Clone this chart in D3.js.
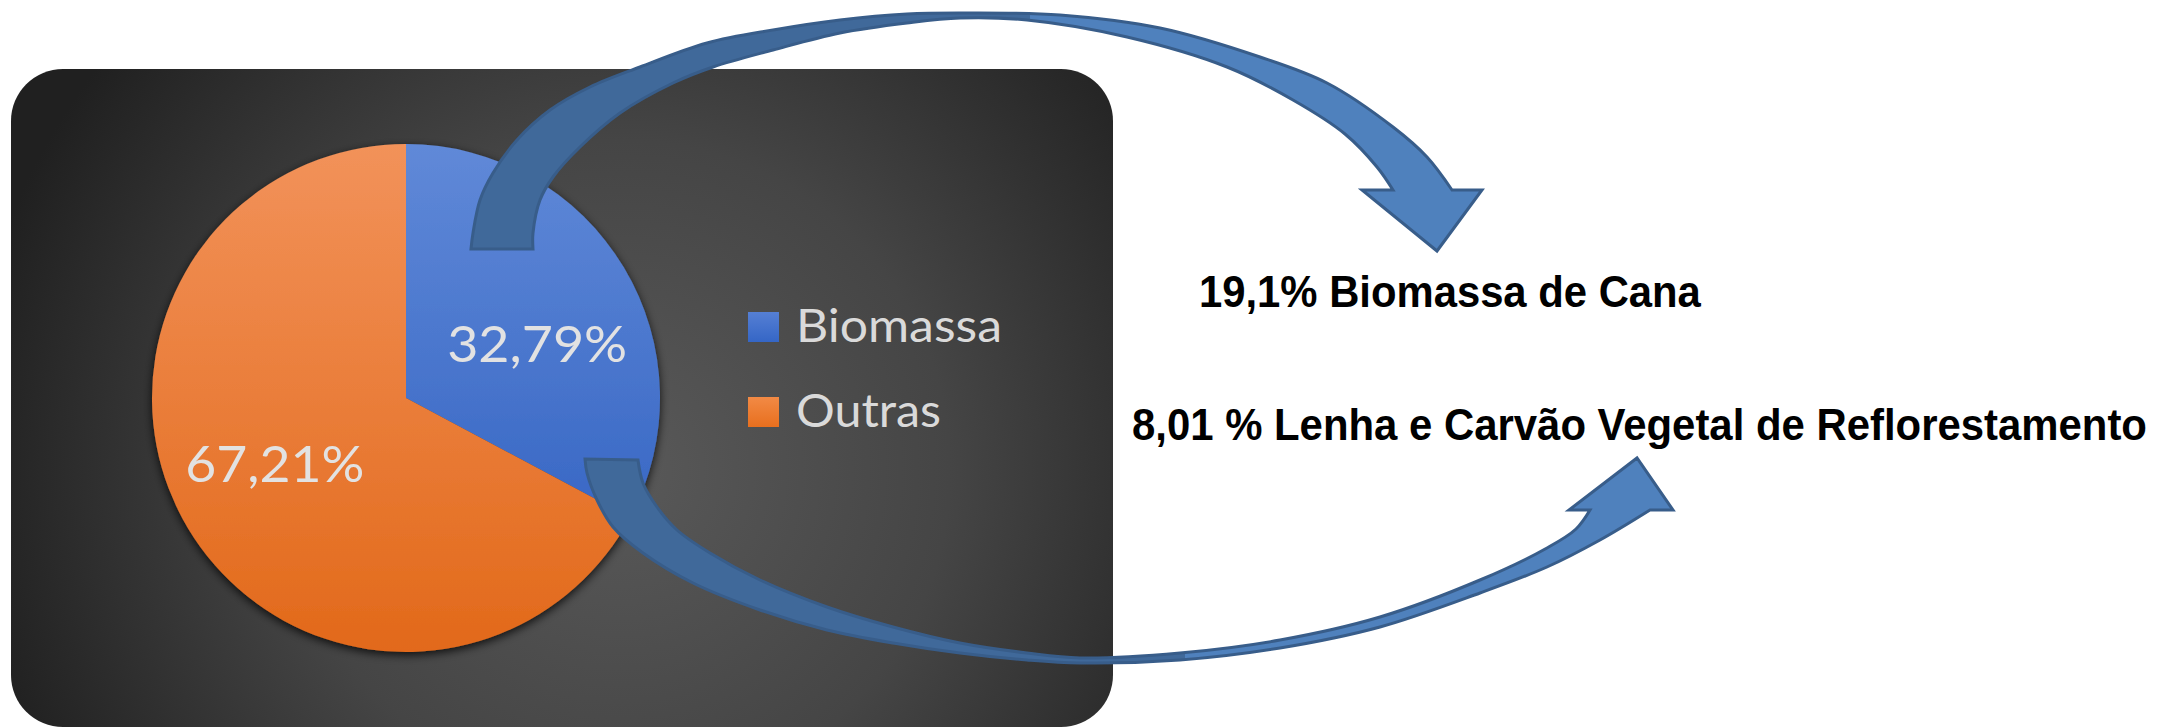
<!DOCTYPE html>
<html><head><meta charset="utf-8">
<script src="https://cdn.jsdelivr.net/npm/d3@7"></script>
<style>html,body{margin:0;padding:0;background:#fff;overflow:hidden}</style>
</head><body>
<svg id="chart" width="2161" height="728"></svg>
<script>
// ---------------- DATA ----------------
const categories = ["Biomassa", "Outras"];
const shares = [32.79, 67.21];
const breakdownValues = ["19,1%", "8,01 %"];
const breakdownNames = ["Biomassa de Cana", "Lenha e Carvão Vegetal de Reflorestamento"];

// ---------------- LAYOUT / STYLE ----------------
const W = 2161, H = 728;
const panel = {x: 11, y: 69, w: 1102, h: 658, r: 52};
const P = {cx: 406, cy: 398, r: 254, lx: 153, ly: 117, ldy: 6};
const sliceColors = [["#6089d8", "#2b5cbe"], ["#f2925a", "#e2691a"]];
const legendColors = [["#557fd4", "#3566c6"], ["#f28a45", "#e86f1e"]];
const legend = {x: 748, baseline0: 342, step: 85, size: 30, textX: 796, widths: [206, 145]};
const labelWidths = [180, 179];
const notePos = [{x: 1199, y: 307, len: 502}, {x: 1132, y: 440, len: 1015}];

// decorative curved arrows (outer edge tail->head, head polygon, inner edge head->tail)
const arrows = [
  {
    split: 1030,
    outer: [[471,249],[473,233],[480,200],[493,173],[517,140],[550,110],[590,87],[640,67],[707,43],[773,30],[840,20],[907,14],[960,13],[1060,15],[1160,28],[1260,57],[1327,83],[1393,127],[1427,157],[1452,190]],
    head: [[1452,190],[1482,190],[1437,251],[1362,190],[1393,190]],
    inner: [[1393,190],[1377,167],[1345,134],[1293,100],[1227,67],[1127,37],[1027,20],[960,18],[907,23],[840,33],[773,50],[713,67],[673,83],[620,113],[580,147],[553,177],[540,200],[533,233],[533,249]]
  },
  {
    split: 1185,
    outer: [[585,459],[587,473],[597,500],[613,527],[643,553],[693,583],[760,610],[827,630],[893,643],[960,653],[1027,660],[1080,663],[1180,660],[1280,648],[1380,627],[1480,593],[1547,567],[1600,540],[1650,510]],
    head: [[1650,510],[1673,510],[1637,458],[1569,510],[1590,510]],
    inner: [[1590,510],[1576,529],[1547,548],[1480,580],[1380,617],[1280,640],[1180,653],[1080,658],[1027,653],[960,643],[893,627],[827,607],[760,580],[710,553],[677,530],[657,507],[643,483],[638,460]]
  }
];

// ---------------- DRAW ----------------
const svg = d3.select("#chart");
const defs = svg.append("defs");

const rg = defs.append("radialGradient").attr("id", "panelGrad")
  .attr("gradientUnits", "userSpaceOnUse").attr("cx", 620).attr("cy", 470).attr("r", 660);
rg.selectAll("stop").data([[0, "#595959"], [0.5, "#454545"], [1, "#202020"]]).join("stop")
  .attr("offset", d => d[0]).attr("stop-color", d => d[1]);

sliceColors.forEach((c, i) => {
  const lg = defs.append("linearGradient").attr("id", "slice" + i)
    .attr("gradientUnits", "userSpaceOnUse").attr("x1", 0).attr("x2", 0).attr("y1", -P.r).attr("y2", P.r);
  lg.append("stop").attr("offset", 0).attr("stop-color", c[0]);
  lg.append("stop").attr("offset", 1).attr("stop-color", c[1]);
});
legendColors.forEach((c, i) => {
  const lg = defs.append("linearGradient").attr("id", "leg" + i).attr("x1", 0).attr("x2", 0).attr("y1", 0).attr("y2", 1);
  lg.append("stop").attr("offset", 0).attr("stop-color", c[0]);
  lg.append("stop").attr("offset", 1).attr("stop-color", c[1]);
});
const f = defs.append("filter").attr("id", "pieShadow")
  .attr("x", "-20%").attr("y", "-20%").attr("width", "140%").attr("height", "140%");
f.append("feDropShadow").attr("dx", 0).attr("dy", 3).attr("stdDeviation", 5)
  .attr("flood-color", "#000").attr("flood-opacity", 0.8);

// panel
svg.append("rect").attr("x", panel.x).attr("y", panel.y).attr("width", panel.w).attr("height", panel.h)
  .attr("rx", panel.r).attr("ry", panel.r).attr("fill", "url(#panelGrad)");

// pie
const pie = d3.pie().sort(null).value(d => d.value);
const arcs = pie(categories.map((c, i) => ({name: c, value: shares[i]})));
const arc = d3.arc().innerRadius(0).outerRadius(P.r);
const g = svg.append("g").attr("transform", `translate(${P.cx},${P.cy})`);
g.append("g").attr("filter", "url(#pieShadow)")
  .selectAll("path").data(arcs).join("path")
  .attr("d", arc).attr("fill", (d, i) => `url(#slice${i})`);

const loc = d3.formatLocale({decimal: ",", thousands: ".", grouping: [3], currency: ["R$", ""]});
const fmt = loc.format(".2f");
const labelFont = "Lato, 'Open Sans', sans-serif";
g.selectAll("text.lbl").data(arcs).join("text").attr("class", "lbl")
  .attr("x", d => P.lx * Math.sin((d.startAngle + d.endAngle) / 2))
  .attr("y", d => -P.ly * Math.cos((d.startAngle + d.endAngle) / 2) + P.ldy + 18)
  .attr("text-anchor", "middle")
  .attr("font-family", labelFont).attr("font-size", 50).attr("fill", "#e2e2e2")
  .attr("textLength", (d, i) => labelWidths[i]).attr("lengthAdjust", "spacingAndGlyphs")
  .text(d => fmt(d.data.value) + "%");

// legend
const lg = svg.append("g");
categories.forEach((c, i) => {
  const by = legend.baseline0 + i * legend.step;
  lg.append("rect").attr("x", legend.x).attr("y", by - legend.size).attr("width", legend.size + 1).attr("height", legend.size)
    .attr("fill", `url(#leg${i})`);
  lg.append("text").attr("x", legend.textX).attr("y", by)
    .attr("font-family", labelFont).attr("font-size", 46).attr("fill", "#dadada")
    .attr("textLength", legend.widths[i]).attr("lengthAdjust", "spacingAndGlyphs")
    .text(c);
});

// arrows
const curve = d3.line().curve(d3.curveCatmullRom.alpha(0.5));
const straight = d3.line();
const join = parts => parts.map((p, i) => i === 0 ? p : p.replace(/^M/, "L")).join("") + "Z";
arrows.forEach((a, k) => {
  const full = join([curve(a.outer), straight(a.head), curve(a.inner)]);
  defs.append("clipPath").attr("id", "back" + k)
    .append("rect").attr("x", 0).attr("y", 0).attr("width", a.split).attr("height", H);
  svg.append("path").attr("d", full).attr("fill", "#4f81bd");
  svg.append("path").attr("d", full).attr("fill", "#40699a").attr("clip-path", `url(#back${k})`);
  svg.append("path").attr("d", full).attr("fill", "none").attr("stroke", "#385d8a")
    .attr("stroke-width", 3).attr("stroke-linejoin", "miter");
});

// notes (condensed bold text, scaled horizontally to the reference width)
const notes = svg.selectAll("g.note").data(breakdownValues).join("g").attr("class", "note");
notes.append("text")
  .attr("x", 0).attr("y", 0)
  .attr("font-family", "'Liberation Sans', Arial, sans-serif").attr("font-weight", "bold")
  .attr("font-size", 45).attr("fill", "#000")
  .text((d, i) => d + " " + breakdownNames[i]);
notes.each(function(d, i) {
  const t = d3.select(this).select("text").node();
  const sx = notePos[i].len / t.getComputedTextLength();
  d3.select(this).attr("transform", `translate(${notePos[i].x},${notePos[i].y}) scale(${sx},1)`);
});
</script>
</body></html>
